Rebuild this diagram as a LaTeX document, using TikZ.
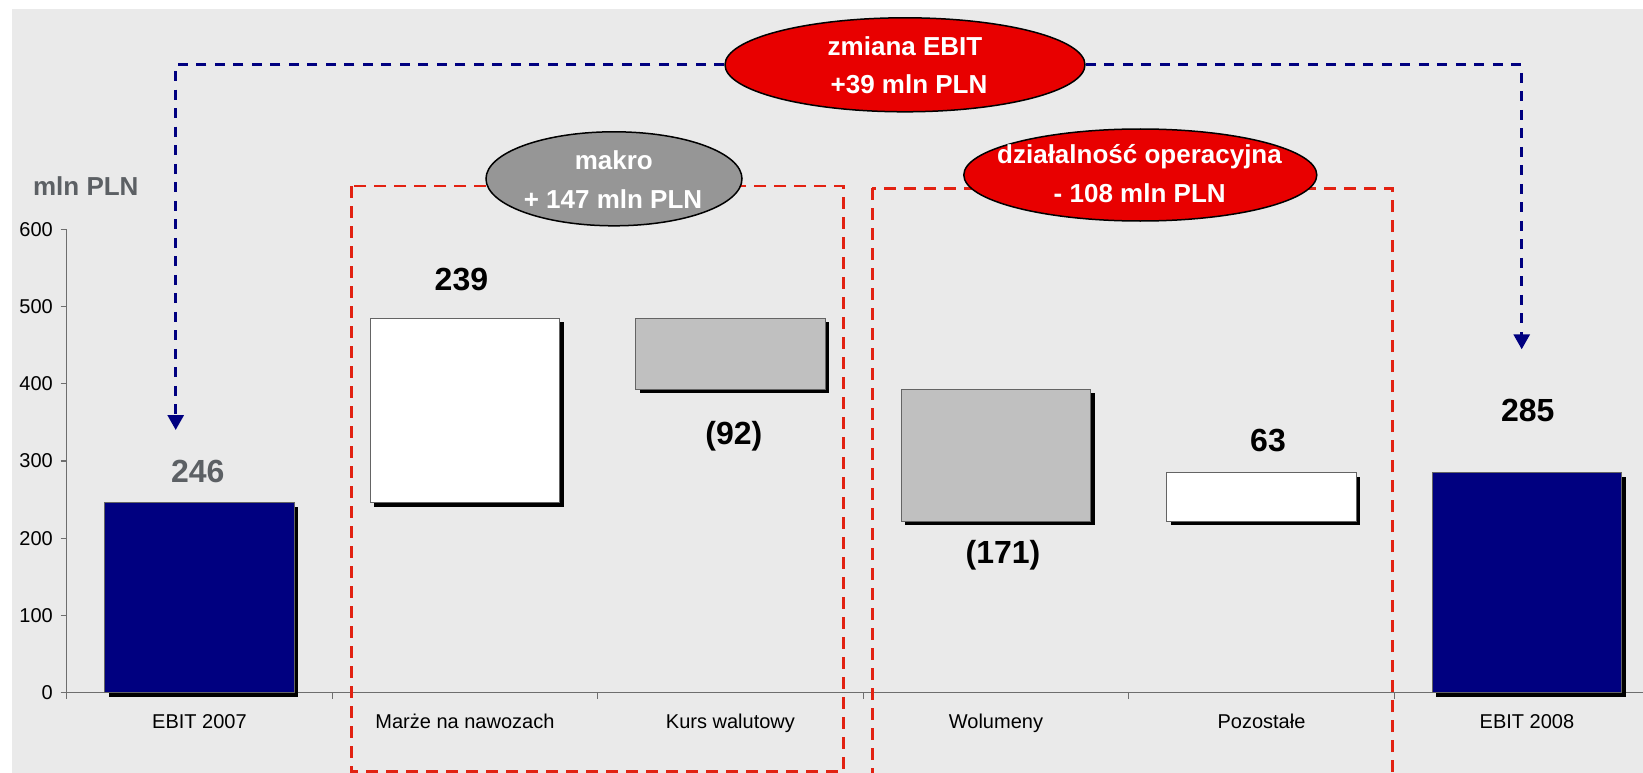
\documentclass[tikz,border=0pt]{standalone}
\usepackage{fontspec}
\setmainfont{Liberation Sans}
\usetikzlibrary{shapes.geometric,arrows.meta,fit,shadows}

\definecolor{bg}{RGB}{234,234,234}
\definecolor{navybar}{RGB}{0,0,128}
\definecolor{barline}{RGB}{100,100,100}
\definecolor{graybar}{RGB}{192,192,192}
\definecolor{redoval}{RGB}{232,0,0}
\definecolor{grayoval}{RGB}{150,150,150}
\definecolor{reddash}{RGB}{226,34,18}
\definecolor{bluedash}{RGB}{0,0,128}
\definecolor{axisgray}{RGB}{110,110,110}
\definecolor{labelgray}{RGB}{92,96,100}

\begin{document}
\begin{tikzpicture}[x=1pt,y=-1pt,
  barbox/.style={draw=barline, line width=1.2pt, inner sep=0pt,
    drop shadow={shadow xshift=4pt, shadow yshift=-4pt, fill=black, opacity=1}},
  axisline/.style={draw=axisgray, line width=1.3pt},
  redbox/.style={draw=reddash, line width=2.9pt, dash pattern=on 12pt off 8pt},
  bluearrow/.style={draw=bluedash, line width=3pt, dash pattern=on 10pt off 8.5pt,
    -{Triangle[width=16pt,length=15pt]}},
  oval/.style={ellipse, draw=black, line width=1.5pt, inner sep=0pt},
  ovaltxt/.style={font=\fontsize{26}{30}\selectfont\bfseries, text=white, anchor=base, inner sep=0pt},
  catlab/.style={font=\fontsize{20}{24}\selectfont, anchor=base, inner sep=0pt},
  ylab/.style={font=\fontsize{20}{24}\selectfont, anchor=east, inner sep=0pt},
  vallab/.style={font=\fontsize{32}{38}\selectfont\bfseries, anchor=base, inner sep=0pt},
]
\useasboundingbox (0,0) rectangle (1643,773);
\clip (0,0) rectangle (1643,773);
\fill[bg] (12,9) rectangle (1643,773);

% axes
\draw[axisline] (60.7,229.3) -- (66.7,229.3) -- (66.7,698.7);
\foreach \v in {0,100,200,300,400,500}
  \draw[axisline] (60.7,{692.7-0.7723*\v}) -- (66.7,{692.7-0.7723*\v});
\foreach \v in {0,100,200,300,400,500,600}
  \node[ylab] (yl\v) at (53,{692.7-0.7723*\v}) {\v};
\draw[axisline] (66.7,692.7) -- (1665,692.7);
\foreach \k in {1,2,3,4,5}
  \draw[axisline] ({66.7+265.5*\k},692.7) -- ({66.7+265.5*\k},698.7);

% bars
\node[barbox, fill=navybar, fit={(104.65,502.7)(294.25,692.7)}] (b1) {};
\node[barbox, fill=white, fit={(370.15,318.1)(559.75,502.7)}] (b2) {};
\node[barbox, fill=graybar, fit={(635.65,318.1)(825.25,389.2)}] (b3) {};
\node[barbox, fill=graybar, fit={(901.15,389.2)(1090.75,521.2)}] (b4) {};
\node[barbox, fill=white, fit={(1166.65,472.6)(1356.25,521.2)}] (b5) {};
\node[barbox, fill=navybar, fit={(1432.15,472.6)(1621.75,692.7)}] (b6) {};

% category labels
\node[catlab] (c1) at (199.45,728.3) {EBIT 2007};
\node[catlab] (c2) at (464.95,728.3) {Marże na nawozach};
\node[catlab] (c3) at (730.45,728.3) {Kurs walutowy};
\node[catlab] (c4) at (995.95,728.3) {Wolumeny};
\node[catlab] (c5) at (1261.45,728.3) {Pozostałe};
\node[catlab] (c6) at (1526.95,728.3) {EBIT 2008};

% value labels
\node[vallab, text=labelgray] (v1) at (197.7,482.7) {246};
\node[vallab] (v2) at (461.4,290.7) {239};
\node[vallab] (v3) at (733.8,444) {(92)};
\node[vallab] (v4) at (1003,563.5) {(171)};
\node[vallab] (v5) at (1268,451) {63};
\node[vallab] (v6) at (1527.7,421.7) {285};

\node[font=\fontsize{26}{30}\selectfont\bfseries, text=labelgray, anchor=base, inner sep=0pt] (unit) at (85.8,195) {mln PLN};

% red dashed group boxes
\draw[redbox] (351.6,186) rectangle (843.3,771.5);
\draw[redbox] (872.3,188.3) rectangle (1392.3,800);

% ovals
\node[oval, fill=redoval, minimum width=360pt, minimum height=94pt] (zm) at (905,64.8) {};
\node[oval, fill=grayoval, minimum width=256pt, minimum height=94pt] (mk) at (614,178.8) {};
\node[oval, fill=redoval, minimum width=353pt, minimum height=92pt] (op) at (1140.3,175) {};

% blue connectors
\coordinate (tipL) at (175.7,430);
\coordinate (tipR) at (1521.7,349.3);
\draw[bluearrow] (zm.west) -| (tipL);
\draw[bluearrow] (zm.east) -| (tipR);

% oval texts
\node[ovaltxt] (zmt1) at (905,55.7) {zmiana EBIT};
\node[ovaltxt] (zmt2) at (909,93.3) {+39 mln PLN};
\node[ovaltxt] (mkt1) at (613.8,169.3) {makro};
\node[ovaltxt] (mkt2) at (613,208.3) {+ 147 mln PLN};
\node[ovaltxt] (opt1) at (1139.5,163.3) {działalność operacyjna};
\node[ovaltxt] (opt2) at (1139.7,202.7) {- 108 mln PLN};
\end{tikzpicture}
\end{document}
